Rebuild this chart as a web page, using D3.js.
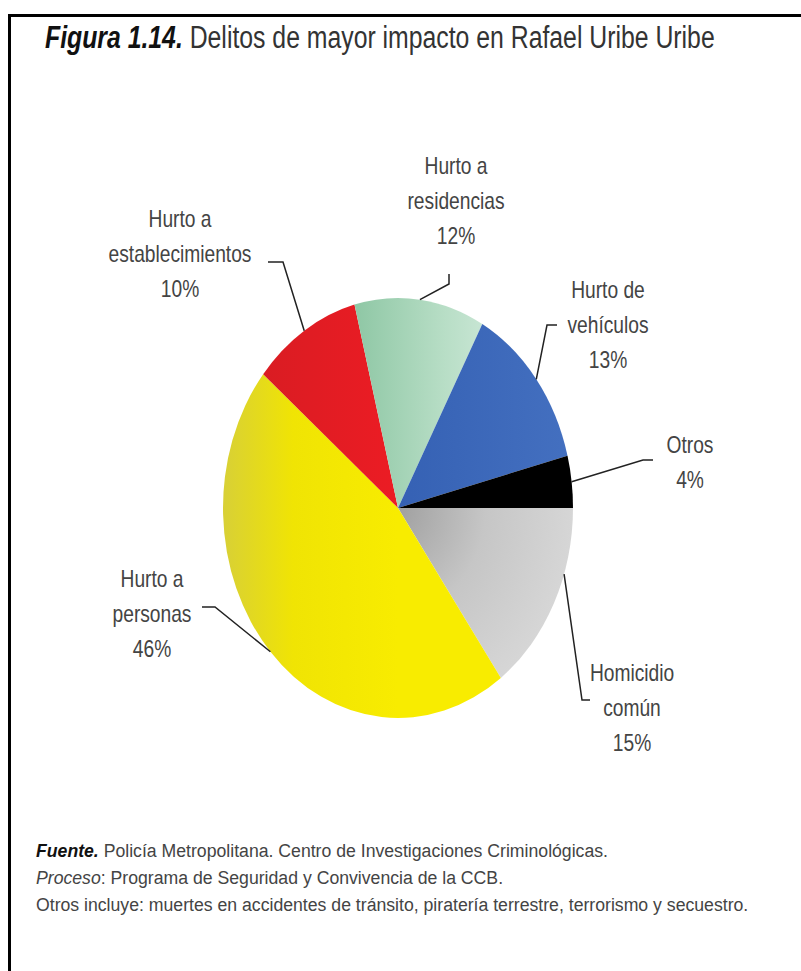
<!DOCTYPE html>
<html lang="es">

<head>
    <meta charset="UTF-8">
    <title>Figura 1.14</title>
    <style>
        body { margin: 0; background: #fff; }
        svg { display: block; }
        text { font-family: "Liberation Sans", Arial, sans-serif; }
    </style>
</head>

<body>
    <svg width="801" height="971"></svg>
    <script src="https://cdn.jsdelivr.net/npm/d3@7"></script>
    <script>

        // data, clockwise from 3 o'clock as in the figure
        let categories = ["Homicidio común", "Hurto a personas", "Hurto a establecimientos",
            "Hurto a residencias", "Hurto de vehículos", "Otros"];
        let values = [15, 46, 10, 12, 13, 4];
        let labelLines = [["Homicidio", "común"], ["Hurto a", "personas"], ["Hurto a", "establecimientos"],
            ["Hurto a", "residencias"], ["Hurto de", "vehículos"], ["Otros"]];
        let colors = ["url(#gGris)", "url(#gAmarillo)", "url(#gRojo)", "url(#gVerde)", "url(#gAzul)", "#000"];

        let notes = [
            { bold: "Fuente.", text: " Policía Metropolitana. Centro de Investigaciones Criminológicas." },
            { italic: "Proceso", text: ": Programa de Seguridad y Convivencia de la CCB." },
            { text: "Otros incluye: muertes en accidentes de tránsito, piratería terrestre, terrorismo y secuestro." }
        ];

        // label layout: text centre / first baseline, leader elbow points, where leader hits the rim
        let labelLayout = [
            { x: 632, y: 681, pts: [[590, 700], [582, 700]], at: 0.34 },
            { x: 152, y: 587, pts: [[202, 607], [215, 607]], at: 0.5 },
            { x: 180, y: 227, pts: [[268, 262], [283, 262]], at: 0.5 },
            { x: 456, y: 174, pts: [[449, 274], [449, 284]], at: 0.5 },
            { x: 608, y: 298, pts: [[557, 325], [547, 325]], at: 0.5 },
            { x: 690, y: 453, pts: [[653, 460], [643, 460]], at: 0.5 }
        ];

        let svg = d3.select("svg"),
            cx = 398, cy = 508,
            r = 175, sy = 1.2,
            lineH = 35;

        // condensed look: squeeze text horizontally
        function at(x, y, k) {
            return "translate(" + x + "," + y + ") scale(" + (k || 0.8) + ",1)";
        }

        // frame
        svg.append("path")
            .attr("d", "M9.5,971 V15.5 H801")
            .attr("fill", "none")
            .attr("stroke", "#000")
            .attr("stroke-width", 3);

        // title
        let title = svg.append("text")
            .attr("transform", at(45, 48, 0.8))
            .attr("font-size", 31)
            .attr("fill", "#333");
        title.append("tspan").attr("font-weight", "bold").attr("font-style", "italic").attr("fill", "#111").text("Figura 1.14.");
        title.append("tspan").text(" Delitos de mayor impacto en Rafael Uribe Uribe");

        // gradients
        let defs = svg.append("defs");
        function linGrad(id, x1, x2, stops) {
            let g = defs.append("linearGradient").attr("id", id)
                .attr("gradientUnits", "userSpaceOnUse")
                .attr("x1", x1).attr("y1", 0).attr("x2", x2).attr("y2", 0);
            stops.forEach(s => g.append("stop").attr("offset", s[0]).attr("stop-color", s[1]));
        }
        linGrad("gAmarillo", -r, 0, [[0, "#d8d036"], [0.4, "#f0e404"], [1, "#f8ec00"]]);
        linGrad("gRojo", -r, 0, [[0, "#d41c22"], [1, "#ec1c24"]]);
        linGrad("gVerde", -40, r * 0.6, [[0, "#90c8a6"], [0.6, "#b8dec6"], [1, "#cfe9da"]]);
        linGrad("gAzul", 0, r, [[0, "#3561b4"], [1, "#4470c0"]]);
        let rg = defs.append("radialGradient").attr("id", "gGris")
            .attr("gradientUnits", "userSpaceOnUse")
            .attr("cx", 0).attr("cy", 0).attr("r", r);
        rg.append("stop").attr("offset", 0).attr("stop-color", "#a0a0a0");
        rg.append("stop").attr("offset", 0.5).attr("stop-color", "#c6c6c6");
        rg.append("stop").attr("offset", 1).attr("stop-color", "#d6d6d6");

        // pie
        let pie = d3.pie()
            .sort(null)
            .startAngle(Math.PI / 2)
            .endAngle(Math.PI / 2 + 2 * Math.PI);
        let arcs = pie(values);
        let arc = d3.arc().innerRadius(0).outerRadius(r);

        let g = svg.append("g")
            .attr("transform", "translate(" + cx + "," + cy + ") scale(1," + sy + ")");
        g.selectAll("path")
            .data(arcs)
            .enter().append("path")
            .attr("d", arc)
            .attr("fill", (d, i) => colors[i]);

        // leader lines
        let rimPoint = function (d, t) {
            let a = d.startAngle + (d.endAngle - d.startAngle) * t;
            return [cx + r * Math.sin(a), cy - r * sy * Math.cos(a)];
        };
        svg.append("g").selectAll("path")
            .data(arcs)
            .enter().append("path")
            .attr("fill", "none")
            .attr("stroke", "#222")
            .attr("stroke-width", 1.5)
            .attr("d", (d, i) => d3.line()(labelLayout[i].pts.concat([rimPoint(d, labelLayout[i].at)])));

        // labels
        let labels = svg.append("g").selectAll("text")
            .data(arcs)
            .enter().append("text")
            .attr("transform", (d, i) => at(labelLayout[i].x, labelLayout[i].y))
            .attr("text-anchor", "middle")
            .attr("font-size", 24)
            .attr("fill", "#444");
        labels.each(function (d, i) {
            let lines = labelLines[i].concat([values[i] + "%"]);
            d3.select(this).selectAll("tspan")
                .data(lines)
                .enter().append("tspan")
                .attr("x", 0)
                .attr("y", (s, j) => j * lineH)
                .text(s => s);
        });

        // source notes
        let foot = svg.append("g").selectAll("text")
            .data(notes)
            .enter().append("text")
            .attr("transform", (d, i) => at(36, 857 + i * 27, 0.93))
            .attr("font-size", 19)
            .attr("fill", "#444");
        foot.each(function (d) {
            let t = d3.select(this);
            if (d.bold) t.append("tspan").attr("font-weight", "bold").attr("font-style", "italic").attr("fill", "#111").text(d.bold);
            if (d.italic) t.append("tspan").attr("font-style", "italic").text(d.italic);
            t.append("tspan").text(d.text);
        });

    </script>
</body>

</html>
